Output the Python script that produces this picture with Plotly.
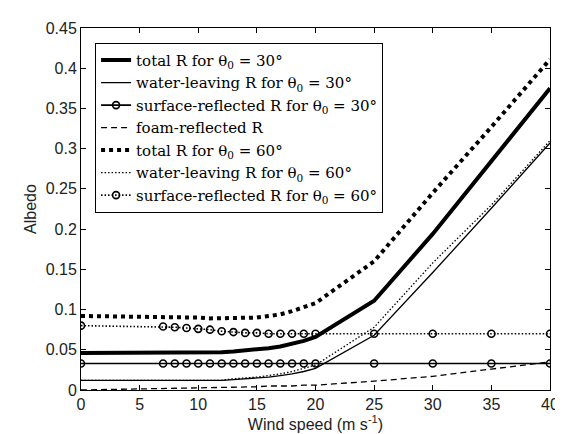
import plotly.graph_objects as go

wind = [0, 7, 8, 9, 10, 11, 12, 13, 14, 15, 16, 17, 18, 19, 20, 25, 30, 35, 40]

total_30 = [0.046, 0.046, 0.046, 0.046, 0.047, 0.047, 0.047, 0.048, 0.049, 0.050,
            0.052, 0.054, 0.057, 0.061, 0.066, 0.111, 0.194, 0.285, 0.375]
water_30 = [0.012, 0.012, 0.012, 0.012, 0.012, 0.012, 0.012, 0.013, 0.014, 0.015,
            0.016, 0.018, 0.020, 0.023, 0.027, 0.068, 0.146, 0.226, 0.307]
surface_30 = [0.033] * 19
foam = [0.000, 0.002, 0.002, 0.002, 0.003, 0.003, 0.003, 0.004, 0.004, 0.004,
        0.005, 0.005, 0.005, 0.006, 0.006, 0.011, 0.017, 0.026, 0.035]
total_60 = [0.092, 0.091, 0.091, 0.090, 0.090, 0.089, 0.089, 0.089, 0.089, 0.090,
            0.092, 0.094, 0.098, 0.103, 0.108, 0.160, 0.245, 0.327, 0.411]
water_60 = [0.012, 0.012, 0.012, 0.012, 0.012, 0.012, 0.012, 0.014, 0.015, 0.016,
            0.018, 0.020, 0.023, 0.027, 0.031, 0.078, 0.158, 0.230, 0.310]
surface_60 = [0.080, 0.079, 0.078, 0.077, 0.076, 0.075, 0.073, 0.072, 0.071, 0.071,
              0.070, 0.070, 0.070, 0.070, 0.070, 0.070, 0.070, 0.070, 0.070]

names = [
    "total R for θ<sub>0</sub> = 30°",
    "water-leaving R for θ<sub>0</sub> = 30°",
    "surface-reflected R for θ<sub>0</sub> = 30°",
    "foam-reflected R",
    "total R for θ<sub>0</sub> = 60°",
    "water-leaving R for θ<sub>0</sub> = 60°",
    "surface-reflected R for θ<sub>0</sub> = 60°",
]

K = "black"
SANS = "Liberation Sans, Arial, sans-serif"
SERIF = "DejaVu Serif, serif"
marker_circle = dict(symbol="circle-open", size=7, color=K, line=dict(width=1.6, color=K))

fig = go.Figure()
fig.add_trace(go.Scatter(x=wind, y=total_30, mode="lines", name=names[0],
                         line=dict(color=K, width=4)))
fig.add_trace(go.Scatter(x=wind, y=water_30, mode="lines", name=names[1],
                         line=dict(color=K, width=1.3)))
fig.add_trace(go.Scatter(x=wind, y=surface_30, mode="lines+markers", name=names[2],
                         line=dict(color=K, width=1.6), marker=marker_circle))
fig.add_trace(go.Scatter(x=wind, y=foam, mode="lines", name=names[3],
                         line=dict(color=K, width=1.3, dash="6px,4px")))
fig.add_trace(go.Scatter(x=wind, y=total_60, mode="lines", name=names[4],
                         line=dict(color=K, width=4, dash="4px,4px")))
fig.add_trace(go.Scatter(x=wind, y=water_60, mode="lines", name=names[5],
                         line=dict(color=K, width=1.3, dash="1.5px,2px")))
fig.add_trace(go.Scatter(x=wind, y=surface_60, mode="lines+markers", name=names[6],
                         line=dict(color=K, width=1.6, dash="1.5px,2px"), marker=marker_circle))

axis_common = dict(
    showgrid=False, zeroline=False, showline=True, linecolor=K, linewidth=1,
    mirror="ticks", ticks="inside", ticklen=5, tickcolor=K,
    tickfont=dict(family=SANS, size=16, color="#222"),
)

fig.update_layout(
    width=563, height=434,
    margin=dict(l=73, r=19, t=12, b=52),
    paper_bgcolor="white", plot_bgcolor="white",
    xaxis=dict(range=[0, 40], dtick=5, tick0=0,
               title=dict(text="Wind speed (m s<sup>-1</sup>)", standoff=2,
                          font=dict(family=SANS, size=16, color="#222")),
               **axis_common),
    yaxis=dict(range=[0, 0.45], dtick=0.05, tick0=0,
               title=dict(text="Albedo", standoff=5,
                          font=dict(family=SANS, size=16, color="#222")),
               **axis_common),
    legend=dict(x=0.03, y=0.959, xanchor="left", yanchor="top",
                bgcolor="white", bordercolor=K, borderwidth=1,
                font=dict(family=SERIF, size=15, color=K),
                tracegroupgap=0, itemwidth=30),
    showlegend=True,
)

fig.write_html("out.html")
